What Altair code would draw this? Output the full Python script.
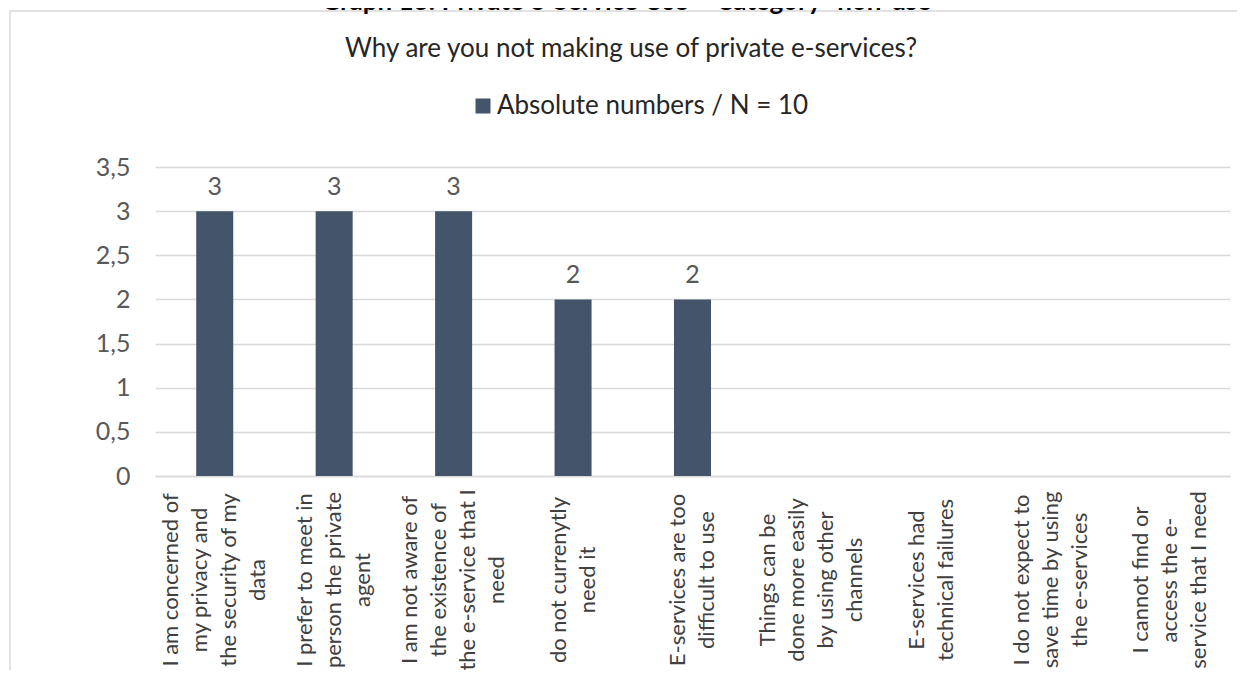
import altair as alt
import pandas as pd

# ---- data ----
categories = [
    "I am concerned of|my privacy and|the security of my|data",
    "I prefer to meet in|person the private|agent",
    "I am not aware of|the existence of|the e-service that I|need",
    "do not currenytly|need it",
    "E-services are too|difficult to use",
    "Things can be|done more easily|by using other|channels",
    "E-services had|technical failures",
    "I do not expect to|save time by using|the e-services",
    "I cannot find or|access the e-|service that I need",
]
values = [3, 3, 3, 2, 2, 0, 0, 0, 0]
series_name = "Absolute numbers / N = 10"
chart_title = "Why are you not making use of private e-services?"
page_title = "Graph 13: Private e-Service Use \u2013 Category \u201cnon-use\u201d"
y_ticks = [0, 0.5, 1, 1.5, 2, 2.5, 3, 3.5]

FONT = "Lato"
BAR = "#44546A"
GRID = "#d9d9d9"
AXIS_TXT = "#595959"
XLAB_TXT = "#404040"
DARK_TXT = "#262626"
W, H = 1075, 309
LINE_H = 29

df = pd.DataFrame({"reason": categories, "count": values, "series": [series_name] * len(values)})
title_df = pd.DataFrame({"t": [chart_title]})
page_df = pd.DataFrame({"t": [page_title]})
box_df = pd.DataFrame({"k": [0]})

# one row per wrapped line of each category label
rows = []
for cat in categories:
    parts = cat.split("|")
    n = len(parts)
    for i, p in enumerate(parts):
        rows.append({"reason": cat, "line": p, "off": (i - (n - 1) / 2) * LINE_H})
lines_df = pd.DataFrame(rows)

x_enc = alt.X(
    "reason:N",
    sort=categories,
    scale=alt.Scale(paddingInner=0.69, paddingOuter=0.345),
    axis=alt.Axis(
        title=None,
        labels=False,
        ticks=False,
        tickSize=0,
        domainColor=GRID,
        domainWidth=1.5,
    ),
)
y_enc = alt.Y(
    "count:Q",
    scale=alt.Scale(domain=[0, 3.5], nice=False),
    axis=alt.Axis(
        title=None,
        values=y_ticks,
        domain=False,
        ticks=False,
        labelPadding=25,
        gridColor=GRID,
        gridWidth=1.5,
        labelFont=FONT,
        labelFontSize=25,
        labelColor=AXIS_TXT,
        labelExpr="replace(format(datum.value, '.1~f'), '.', ',')",
    ),
)

bars = alt.Chart(df).mark_bar().encode(
    x=x_enc,
    y=y_enc,
    color=alt.Color(
        "series:N",
        scale=alt.Scale(range=[BAR]),
        legend=alt.Legend(
            title=None,
            orient="none",
            legendX=315,
            legendY=-74,
            symbolType="square",
            symbolSize=225,
            symbolStrokeWidth=0,
            labelFont=FONT,
            labelFontSize=26,
            labelColor=DARK_TXT,
            labelOffset=1,
            labelLimit=600,
            padding=0,
        ),
    ),
)

labels = alt.Chart(df).transform_filter("datum.count > 0").mark_text(
    dy=-16, baseline="alphabetic", font=FONT, fontSize=25, color=AXIS_TXT
).encode(x=alt.X("reason:N", sort=categories), y="count:Q", text="count:Q")

# x category labels, rotated, lines centred on each band
xlabel_layers = []
for off in sorted(lines_df["off"].unique()):
    xlabel_layers.append(
        alt.Chart(lines_df)
        .transform_filter(f"datum.off == {off}")
        .mark_text(
            angle=270, align="center", baseline="middle", dy=float(off),
            font=FONT, fontSize=22, color=XLAB_TXT,
        )
        .encode(x=alt.X("reason:N", sort=categories), y=alt.value(H + 104), text="line:N")
    )

title_txt = alt.Chart(title_df).mark_text(
    font=FONT, fontSize=26, color=DARK_TXT, align="center", baseline="alphabetic"
).encode(x=alt.value(476), y=alt.value(-110), text="t:N")

page_txt = alt.Chart(page_df).mark_text(
    font=FONT, fontSize=26, fontWeight="bold", color="#000000", align="center", baseline="alphabetic"
).encode(x=alt.value(476), y=alt.value(-157), text="t:N")

box = alt.Chart(box_df).mark_rect(
    fillOpacity=0, stroke=GRID, strokeWidth=1.5
).encode(x=alt.value(-145), x2=alt.value(1200), y=alt.value(-156), y2=alt.value(700))

chart = alt.layer(box, page_txt, title_txt, bars, labels, *xlabel_layers).properties(
    width=W,
    height=H,
    padding={"left": 147, "top": 159, "right": 7, "bottom": 194},
    autosize=alt.AutoSizeParams(type="none"),
    background="white",
).configure_view(stroke=None)

chart.save("out.html", embed_options={"renderer": "svg", "actions": False})
